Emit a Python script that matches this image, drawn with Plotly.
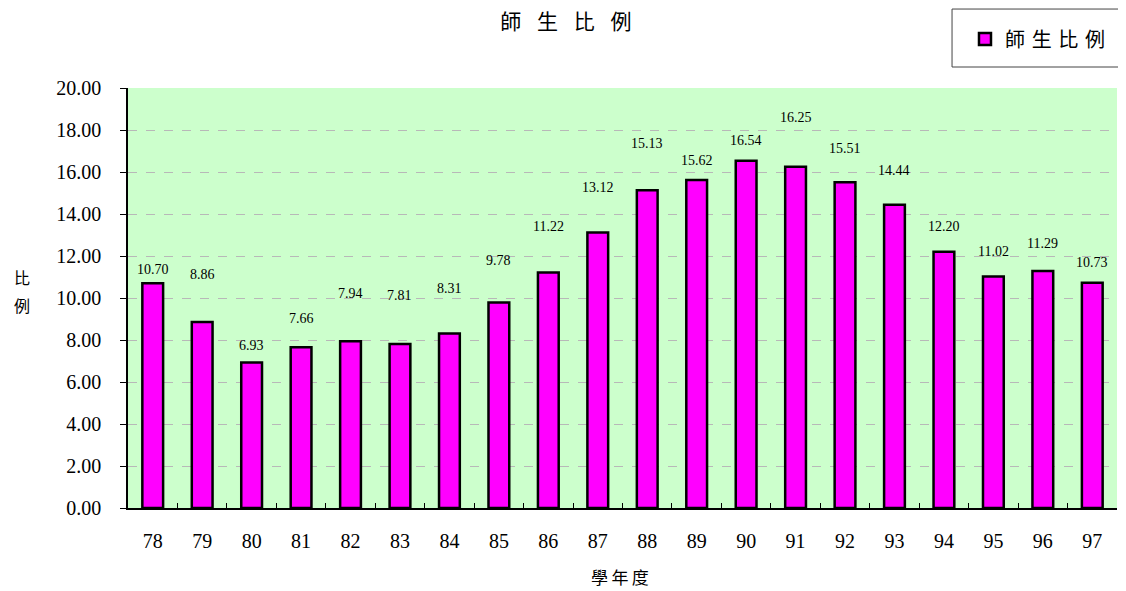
import plotly.graph_objects as go

years = ["78", "79", "80", "81", "82", "83", "84", "85", "86", "87",
         "88", "89", "90", "91", "92", "93", "94", "95", "96", "97"]
ratio = [10.70, 8.86, 6.93, 7.66, 7.94, 7.81, 8.31, 9.78, 11.22, 13.12,
         15.13, 15.62, 16.54, 16.25, 15.51, 14.44, 12.20, 11.02, 11.29, 10.73]
series_name = "師生比例"
title_text = "師生比例"
x_title = "學年度"
y_title = "比例"

# pixel offsets of the value labels above each bar (style only)
label_shift = [14, 47, 17, 29, 48, 48, 45, 42, 46, 45,
               47, 19, 20, 49, 34, 34, 25, 25, 27, 20]

serif = "Liberation Serif, Times New Roman, serif"
cjk = "Noto Sans CJK TC, Noto Sans CJK SC, sans-serif"

fig = go.Figure()
fig.add_trace(go.Bar(
    x=years, y=ratio, name="\u2004".join(series_name),
    marker=dict(color="#ff00ff", line=dict(color="black", width=2.5)),
    showlegend=True,
))

for i, (y, s) in enumerate(zip(ratio, label_shift)):
    fig.add_annotation(x=i, y=y, text=f"{y:.2f}", showarrow=False,
                       yanchor="middle", yshift=s,
                       font=dict(family=serif, size=14, color="black"))

for ch, yp in zip(y_title, [0.55, 0.483]):
    fig.add_annotation(xref="paper", yref="paper", x=-0.117, y=yp,
                       text=ch, showarrow=False, yanchor="middle",
                       font=dict(family=cjk, size=16, color="black"))
fig.add_annotation(xref="paper", yref="paper", x=0.4975, y=-0.162,
                   text="\u2009".join(x_title), showarrow=False, yanchor="middle",
                   font=dict(family=cjk, size=17, color="black"))

# legend frame
fig.add_shape(type="rect", xref="paper", yref="paper",
              x0=0.8332, x1=1.0085, y0=1.05, y1=1.188,
              line=dict(color="#444444", width=1), fillcolor="white", layer="below")

fig.update_layout(
    width=1118, height=583,
    margin=dict(l=120, r=9, t=80, b=83, autoexpand=False),
    paper_bgcolor="white", plot_bgcolor="#ccffcc",
    title=dict(text="\u2002\u2005".join(title_text), x=0.499, xref="container",
               xanchor="center", y=0.976, yanchor="middle",
               font=dict(family=cjk, size=21, color="black")),
    bargap=0.58,
    legend=dict(x=0.8463, xanchor="left", y=1.1167, yanchor="middle",
                borderwidth=0, bgcolor="rgba(0,0,0,0)",
                font=dict(family=cjk, size=20, color="black"),
                itemwidth=30),
    xaxis=dict(type="category", showline=True, linecolor="black", linewidth=1.5,
               ticks="inside", tickson="boundaries", ticklen=5, tickangle=0,
               tickcolor="black", showgrid=False, range=[-0.5, 19.5],
               tickfont=dict(family=serif, size=20, color="black"),
               ticklabelstandoff=14),
    yaxis=dict(range=[0, 20], dtick=2, tickformat=".2f",
               showline=True, linecolor="black", linewidth=1.5,
               ticks="outside", ticklen=6, tickcolor="black",
               showgrid=True, gridcolor="#b8b8b8", griddash="dash", gridwidth=1,
               zeroline=False, ticklabelstandoff=15,
               tickfont=dict(family=serif, size=20, color="black")),
)

fig.write_html("out.html")
